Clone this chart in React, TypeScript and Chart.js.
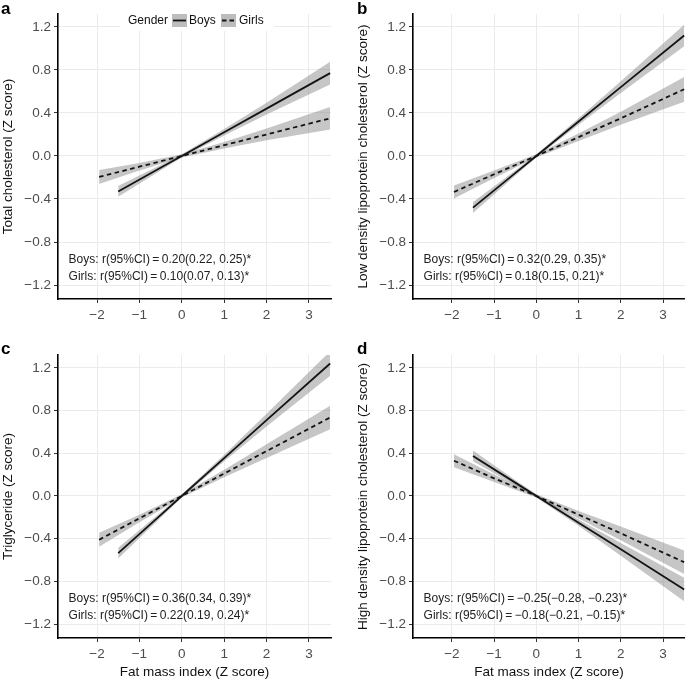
import React, { useEffect, useRef } from "react";
import { Chart, registerables } from "chart.js";
Chart.register(...registerables);

const FONT = "'Liberation Sans', Arial, Helvetica, sans-serif";

// x positions (Fat mass index Z score) where lines/bands are read
const xBoys = [-1.5, -0.5, 0, 1, 2, 3.5];
const xGirls = [-1.95, -1, 0, 1, 2, 3.5];

// a: Total cholesterol
const tcBoys = [-0.33, -0.11, 0, 0.22, 0.44, 0.77];
const tcBoysCI = [0.05, 0.025, 0.015, 0.03, 0.055, 0.105];
const tcGirls = [-0.195, -0.1, 0, 0.1, 0.2, 0.35];
const tcGirlsCI = [0.065, 0.035, 0.015, 0.03, 0.055, 0.105];

// b: LDL cholesterol
const ldlBoys = [-0.48, -0.16, 0, 0.32, 0.64, 1.12];
const ldlBoysCI = [0.05, 0.025, 0.015, 0.03, 0.055, 0.1];
const ldlGirls = [-0.335, -0.17, 0, 0.175, 0.35, 0.62];
const ldlGirlsCI = [0.06, 0.035, 0.015, 0.035, 0.06, 0.115];

// c: Triglyceride
const tgBoys = [-0.535, -0.18, 0, 0.355, 0.71, 1.24];
const tgBoysCI = [0.05, 0.025, 0.015, 0.03, 0.06, 0.115];
const tgGirls = [-0.41, -0.21, 0, 0.21, 0.42, 0.735];
const tgGirlsCI = [0.065, 0.035, 0.015, 0.035, 0.065, 0.11];

// d: HDL cholesterol
const hdlBoys = [0.375, 0.125, 0, -0.25, -0.5, -0.875];
const hdlBoysCI = [0.05, 0.025, 0.015, 0.03, 0.06, 0.11];
const hdlGirls = [0.33, 0.165, 0, -0.175, -0.35, -0.62];
const hdlGirlsCI = [0.06, 0.035, 0.015, 0.035, 0.065, 0.11];

const xTickValues = [-2, -1, 0, 1, 2, 3];
const yTickValues = [-1.2, -0.8, -0.4, 0, 0.4, 0.8, 1.2];

const statsBoys = ["0.20(0.22, 0.25)*", "0.32(0.29, 0.35)*", "0.36(0.34, 0.39)*", "\u22120.25(\u22120.28, \u22120.23)*"];
const statsGirls = ["0.10(0.07, 0.13)*", "0.18(0.15, 0.21)*", "0.22(0.19, 0.24)*", "\u22120.18(\u22120.21, \u22120.15)*"];

const yTitles = [
  "Total cholesterol (Z score)",
  "Low density lipoprotein cholesterol (Z score)",
  "Triglyceride (Z score)",
  "High density lipoprotein cholesterol (Z score)",
];
const panelLetters = ["a", "b", "c", "d"];
const xTitle = "Fat mass index (Z score)";

const BAND = "rgba(120,120,120,0.42)";
const LINE = "#141414";

const fmt = (v: number, d: number) => {
  if (Math.abs(v) < 1e-9) return (0).toFixed(d);
  const s = Math.abs(v).toFixed(d);
  return v < 0 ? "\u2212" + s : s;
};

type PanelProps = {
  idx: number;
  left: number;
  top: number;
  width: number;
  height: number;
  padTop: number;
  padRight: number;
  xAxisH: number;
  showXTitle: boolean;
  boys: number[];
  boysCI: number[];
  girls: number[];
  girlsCI: number[];
  legend: boolean;
};

function Panel(p: PanelProps) {
  const ref = useRef<HTMLCanvasElement>(null);
  useEffect(() => {
    const pts = (xs: number[], ys: number[]) => xs.map((x, i) => ({ x, y: ys[i] }));
    const band = (xs: number[], ys: number[], hw: number[], s: number) =>
      xs.map((x, i) => ({ x, y: ys[i] + s * hw[i] }));

    const annot = {
      id: "annot",
      afterDraw(chart: any) {
        const { ctx, scales, chartArea } = chart;
        const xs = scales.x, ys = scales.y;
        ctx.save();
        ctx.font = `12px ${FONT}`;
        ctx.fillStyle = "#222";
        ctx.textAlign = "left";
        ctx.textBaseline = "middle";
        const x0 = xs.getPixelForValue(-2.67);
        ctx.fillText("Boys: r(95%CI)\u2009=\u2009" + statsBoys[p.idx], x0, ys.getPixelForValue(-0.96));
        ctx.fillText("Girls: r(95%CI)\u2009=\u2009" + statsGirls[p.idx], x0, ys.getPixelForValue(-1.12));
        if (p.legend) {
          const cy = chartArea.top + 6.5;
          ctx.fillStyle = "#fff";
          ctx.fillRect(chartArea.left + 62, chartArea.top - 2, 154, 19);
          ctx.fillStyle = "#111";
          ctx.font = `12px ${FONT}`;
          ctx.fillText("Gender", chartArea.left + 70, cy);
          // boys key
          ctx.fillStyle = "#bdbdbd";
          ctx.fillRect(chartArea.left + 114, cy - 6.5, 15, 13);
          ctx.strokeStyle = LINE;
          ctx.lineWidth = 1.8;
          ctx.beginPath();
          ctx.moveTo(chartArea.left + 115, cy);
          ctx.lineTo(chartArea.left + 128, cy);
          ctx.stroke();
          ctx.fillStyle = "#111";
          ctx.fillText("Boys", chartArea.left + 131, cy);
          // girls key
          ctx.fillStyle = "#bdbdbd";
          ctx.fillRect(chartArea.left + 163, cy - 6.5, 15, 13);
          ctx.setLineDash([4.5, 3]);
          ctx.beginPath();
          ctx.moveTo(chartArea.left + 164, cy);
          ctx.lineTo(chartArea.left + 178, cy);
          ctx.stroke();
          ctx.setLineDash([]);
          ctx.fillStyle = "#111";
          ctx.fillText("Girls", chartArea.left + 181, cy);
        }
        ctx.restore();
      },
    };

    const gridCommon = {
      color: "#ebebeb",
      lineWidth: 1,
      drawTicks: true,
      tickLength: 4,
      tickColor: "#333",
      tickWidth: 1,
    };

    const chart = new Chart(ref.current as HTMLCanvasElement, {
      type: "line",
      data: {
        datasets: [
          { label: "Boys", data: pts(xBoys, p.boys), borderColor: LINE, borderWidth: 1.8, pointRadius: 0, fill: false, tension: 0 },
          { label: "Girls", data: pts(xGirls, p.girls), borderColor: LINE, borderWidth: 1.8, borderDash: [4.5, 3.5], pointRadius: 0, fill: false, tension: 0 },
          { label: "bl", data: band(xBoys, p.boys, p.boysCI, -1), borderColor: "transparent", borderWidth: 0, pointRadius: 0, fill: false },
          { label: "bu", data: band(xBoys, p.boys, p.boysCI, 1), borderColor: "transparent", borderWidth: 0, pointRadius: 0, fill: "-1", backgroundColor: BAND },
          { label: "gl", data: band(xGirls, p.girls, p.girlsCI, -1), borderColor: "transparent", borderWidth: 0, pointRadius: 0, fill: false },
          { label: "gu", data: band(xGirls, p.girls, p.girlsCI, 1), borderColor: "transparent", borderWidth: 0, pointRadius: 0, fill: "-1", backgroundColor: BAND },
        ],
      },
      options: {
        responsive: false,
        animation: false,
        devicePixelRatio: 1,
        layout: { padding: { top: p.padTop, right: p.padRight, left: 0, bottom: 0 } },
        plugins: { legend: { display: false }, tooltip: { enabled: false } },
        scales: {
          x: {
            type: "linear",
            min: -2.92,
            max: 3.52,
            afterBuildTicks: (s: any) => {
              s.ticks = xTickValues.map((v) => ({ value: v }));
            },
            afterFit: (s: any) => {
              s.height = p.xAxisH;
            },
            grid: gridCommon,
            border: { display: true, color: "#000", width: 1.6 },
            ticks: {
              padding: 4,
              color: "#4d4d4d",
              font: { family: FONT, size: 13.5 },
              maxRotation: 0,
              callback: (v: any) => fmt(Number(v), 0),
            },
            title: {
              display: p.showXTitle,
              text: xTitle,
              color: "#111",
              font: { family: FONT, size: 13.5 },
              padding: { top: 0, bottom: 0 },
            },
          },
          y: {
            type: "linear",
            min: -1.33,
            max: 1.32,
            afterBuildTicks: (s: any) => {
              s.ticks = yTickValues.map((v) => ({ value: v }));
            },
            afterFit: (s: any) => {
              s.width = 58;
            },
            grid: gridCommon,
            border: { display: true, color: "#000", width: 1.6 },
            ticks: {
              padding: 3,
              color: "#4d4d4d",
              font: { family: FONT, size: 13.5 },
              callback: (v: any) => fmt(Number(v), 1),
            },
            title: {
              display: true,
              text: yTitles[p.idx],
              color: "#111",
              font: { family: FONT, size: 13.5 },
              padding: { top: 0, bottom: 0 },
            },
          },
        },
      },
      plugins: [annot],
    } as any);
    return () => chart.destroy();
  }, []);
  return (
    <canvas
      ref={ref}
      width={p.width}
      height={p.height}
      style={{ position: "absolute", left: p.left, top: p.top, width: p.width, height: p.height }}
    />
  );
}

const labelStyle = (left: number, top: number): React.CSSProperties => ({
  position: "absolute",
  left,
  top,
  font: `bold 17px ${FONT}`,
  lineHeight: "18px",
  color: "#000",
});

export default function App() {
  return (
    <div style={{ position: "absolute", left: 0, top: 0, width: 685, height: 680, background: "#fff", overflow: "hidden" }}>
      <Panel idx={0} left={0} top={0} width={342} height={340} padTop={14} padRight={11} xAxisH={41} showXTitle={false}
        boys={tcBoys} boysCI={tcBoysCI} girls={tcGirls} girlsCI={tcGirlsCI} legend={true} />
      <Panel idx={1} left={355} top={0} width={330} height={340} padTop={14} padRight={0} xAxisH={41} showXTitle={false}
        boys={ldlBoys} boysCI={ldlBoysCI} girls={ldlGirls} girlsCI={ldlGirlsCI} legend={false} />
      <Panel idx={2} left={0} top={340} width={342} height={340} padTop={15} padRight={11} xAxisH={42} showXTitle={true}
        boys={tgBoys} boysCI={tgBoysCI} girls={tgGirls} girlsCI={tgGirlsCI} legend={false} />
      <Panel idx={3} left={355} top={340} width={330} height={340} padTop={15} padRight={0} xAxisH={42} showXTitle={true}
        boys={hdlBoys} boysCI={hdlBoysCI} girls={hdlGirls} girlsCI={hdlGirlsCI} legend={false} />
      <div style={labelStyle(1, 0)}>{panelLetters[0]}</div>
      <div style={labelStyle(357, 0)}>{panelLetters[1]}</div>
      <div style={labelStyle(1, 340)}>{panelLetters[2]}</div>
      <div style={labelStyle(357, 340)}>{panelLetters[3]}</div>
    </div>
  );
}
